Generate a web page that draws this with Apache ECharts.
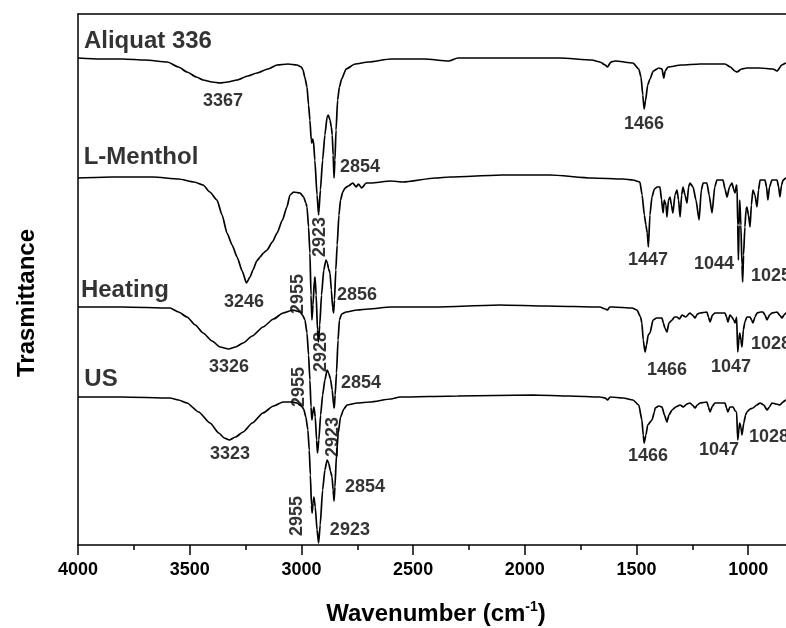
<!DOCTYPE html>
<html>
<head>
<meta charset="utf-8">
<script src="https://cdn.jsdelivr.net/npm/echarts@6/dist/echarts.min.js"></script>
<style>
html, body { margin: 0; padding: 0; background: #fff; }
#chart { width: 786px; height: 628px; }
</style>
</head>
<body>
<div id="chart"></div>
<script>
// FTIR spectra, [wavenumber cm-1, transmittance a.u. (offset per trace)]
var aliquat = [
  [4000,487],[3900,486],[3800,486],[3700,485],[3600,483],[3550,478],[3512,473],[3470,468],[3440,465],
  [3400,463],[3364,462],[3330,463],[3288,465],[3240,469],[3199,472],[3150,476],[3109,480],[3060,481],
  [3020,480],[3000,478],[2993,475],[2985,468],[2975,458],[2968,440],[2962,425],[2956,405],[2953,402],
  [2950,406],[2946,404],[2940,385],[2930,350],[2923,330],[2915,355],[2905,385],[2895,410],[2885,428],
  [2880,430],[2872,425],[2866,418],[2862,410],[2858,390],[2854,367],[2850,385],[2845,415],[2838,445],
  [2830,458],[2820,466],[2800,476],[2760,481],[2700,483],[2600,486],[2450,486],[2340,484],[2300,487],
  [2111,487],[1843,487],[1700,485],[1664,483],[1640,480],[1630,478],[1615,483],[1596,484],[1516,482],
  [1490,476],[1480,468],[1472,450],[1466,436],[1460,444],[1450,460],[1440,466],[1425,474],[1400,477],
  [1386,476],[1378,467],[1372,474],[1359,478],[1300,480],[1216,481],[1104,481],[1080,478],[1060,474],
  [1050,473],[1030,476],[1006,477],[950,477],[889,476],[871,474],[850,480],[831,482],[800,483]
];
var menthol = [
  [4000,367],[3850,368],[3664,368],[3550,366],[3480,363],[3440,360],[3410,353],[3378,345],[3355,330],
  [3333,312],[3310,300],[3288,288],[3265,274],[3246,262],[3230,268],[3217,275],[3200,284],[3185,288],
  [3170,292],[3154,295],[3130,303],[3109,312],[3085,325],[3065,338],[3051,350],[3035,353],[3006,352],
  [2990,348],[2980,342],[2975,338],[2968,318],[2962,292],[2957,250],[2953,225],[2948,240],[2942,265],
  [2939,268],[2934,250],[2928,215],[2924,203],[2918,220],[2910,250],[2900,275],[2890,285],[2884,282],
  [2878,276],[2872,272],[2866,255],[2860,237],[2856,232],[2852,245],[2846,275],[2840,300],[2832,330],
  [2825,345],[2815,353],[2805,357],[2790,359],[2770,362],[2755,358],[2745,361],[2730,357],[2710,362],
  [2690,362],[2600,364],[2545,363],[2400,367],[2335,368],[2100,370],[1887,370],[1700,367],[1560,366],
  [1516,365],[1485,363],[1475,350],[1465,330],[1458,320],[1452,312],[1447,298],[1440,330],[1431,348],
  [1420,356],[1408,358],[1395,358],[1388,345],[1381,332],[1376,345],[1373,345],[1368,340],[1364,328],
  [1357,345],[1350,348],[1344,340],[1337,332],[1328,350],[1319,355],[1312,345],[1305,328],[1298,350],
  [1292,358],[1283,350],[1274,342],[1267,358],[1261,362],[1247,358],[1234,345],[1220,325],[1210,355],
  [1202,362],[1185,362],[1175,350],[1162,332],[1150,358],[1140,365],[1113,365],[1104,356],[1095,348],
  [1084,358],[1073,362],[1064,355],[1059,352],[1053,360],[1050,358],[1047,320],[1044,285],[1041,320],
  [1038,345],[1033,320],[1028,280],[1025,263],[1021,290],[1015,318],[1010,335],[1006,338],[999,330],
  [992,318],[986,340],[979,355],[970,350],[961,338],[954,355],[947,365],[925,365],[918,358],[912,345],
  [905,358],[894,365],[871,365],[864,358],[858,348],[851,360],[844,365],[831,367],[800,367]
];
var heating = [
  [4000,238],[3800,238],[3588,237],[3550,233],[3512,228],[3475,220],[3440,212],[3400,204],[3364,198],
  [3326,196],[3295,198],[3261,202],[3220,209],[3172,218],[3125,226],[3082,232],[3038,235],[3006,233],
  [2995,230],[2984,225],[2975,212],[2968,190],[2962,165],[2957,138],[2953,125],[2949,132],[2944,138],
  [2938,128],[2932,105],[2928,92],[2922,105],[2914,130],[2905,150],[2895,165],[2885,175],[2878,172],
  [2870,166],[2862,155],[2856,140],[2853,137],[2849,150],[2843,172],[2836,205],[2830,225],[2820,231],
  [2800,233],[2750,235],[2700,236],[2600,238],[2400,238],[2111,240],[1900,239],[1664,238],[1640,236],
  [1630,235],[1620,238],[1605,238],[1520,237],[1498,235],[1482,228],[1476,222],[1470,205],[1462,193],
  [1455,200],[1448,210],[1440,212],[1426,225],[1410,227],[1386,227],[1380,222],[1373,217],[1364,213],
  [1355,222],[1341,225],[1330,228],[1319,228],[1308,226],[1296,230],[1280,228],[1261,232],[1250,230],
  [1238,227],[1228,231],[1216,232],[1185,233],[1178,228],[1171,223],[1160,230],[1149,232],[1130,232],
  [1104,232],[1097,228],[1091,223],[1082,230],[1073,228],[1065,225],[1059,222],[1052,228],[1047,193],
  [1042,205],[1038,212],[1033,205],[1028,198],[1022,215],[1015,223],[1006,228],[992,228],[985,225],
  [979,222],[970,228],[961,232],[945,233],[934,233],[925,230],[916,225],[905,230],[894,232],[871,233],
  [860,230],[849,227],[840,230],[831,232],[800,232]
];
var us = [
  [4000,148],[3800,148],[3588,147],[3550,145],[3512,142],[3460,133],[3409,122],[3370,112],[3345,107],
  [3323,105],[3295,108],[3261,113],[3220,122],[3172,132],[3125,139],[3082,143],[3040,143],[3020,142],
  [3000,139],[2990,136],[2980,128],[2971,115],[2965,95],[2960,70],[2955,40],[2952,32],[2948,42],
  [2944,48],[2938,38],[2930,15],[2923,2],[2916,20],[2905,55],[2895,75],[2885,85],[2878,82],[2870,74],
  [2863,68],[2858,55],[2854,44],[2850,58],[2843,90],[2835,112],[2825,128],[2810,136],[2796,140],
  [2750,142],[2693,143],[2600,146],[2559,148],[2300,149],[1963,150],[1800,149],[1664,148],[1640,147],
  [1630,145],[1618,148],[1560,147],[1516,145],[1490,140],[1476,125],[1470,110],[1466,102],[1458,110],
  [1450,120],[1431,125],[1420,133],[1417,137],[1400,139],[1386,138],[1375,130],[1364,123],[1355,130],
  [1341,135],[1325,138],[1305,140],[1290,138],[1275,141],[1261,142],[1250,140],[1238,137],[1228,140],
  [1216,142],[1185,143],[1178,138],[1171,133],[1160,139],[1149,142],[1125,142],[1104,142],[1097,137],
  [1091,133],[1082,138],[1068,138],[1058,134],[1052,133],[1047,105],[1042,115],[1038,122],[1033,118],
  [1028,110],[1020,122],[1012,130],[1006,133],[992,136],[979,137],[962,140],[947,142],[930,140],
  [916,135],[905,138],[894,142],[875,141],[858,140],[845,143],[831,145],[800,145]
];

// axis ticks
var majorTicks = [1000, 1500, 2000, 2500, 3000, 3500, 4000];
var minorTicks = [1250, 1750, 2250, 2750, 3250, 3750];

// trace names and peak annotations: [wavenumber, transmittance, text, vertical]
var traceNames = [
  [3687, 504, 'Aliquat 336'],
  [3718, 388, 'L-Menthol'],
  [3790, 255, 'Heating'],
  [3897, 166, 'US']
];
var peakNotes = [
  [3351, 444, '3367', 0], [2738, 378, '2854', 0], [2917, 308, '2923', 1], [1467, 421, '1466', 0],
  [3257, 243, '3246', 0], [3015, 251, '2955', 1], [2751, 250, '2856', 0],
  [1449, 285, '1447', 0], [1153, 281, '1044', 0], [898, 269, '1025', 0],
  [2912, 193, '2928', 1], [3324, 178, '3326', 0], [3011, 158, '2955', 1], [2733, 162, '2854', 0],
  [1364, 175, '1466', 0], [1077, 178, '1047', 0], [898, 201, '1028', 0],
  [2859, 108, '2923', 1], [3320, 91, '3323', 0], [3020, 29, '2955', 1], [2715, 58, '2854', 0],
  [2783, 15, '2923', 0], [1449, 89, '1466', 0], [1131, 95, '1047', 0], [907, 108, '1028', 0]
];

var font = 'Liberation Sans, Arial, sans-serif';
var ink = '#000';

function spectrum(name, data) {
  return {
    name: name,
    type: 'line',
    data: data,
    symbol: 'none',
    smooth: 0.2,
    smoothMonotone: 'x',
    lineStyle: { color: ink, width: 1.7 },
    silent: true
  };
}

var noteItems = peakNotes.map(function (p) {
  return {
    value: [p[0], p[1]],
    label: { formatter: p[2], rotate: p[3] ? 90 : 0 }
  };
});
var nameItems = traceNames.map(function (p) {
  return { value: [p[0], p[1]], label: { formatter: p[2] } };
});

var xBase = { type: 'value', inverse: true, min: 831, max: 4000, splitLine: { show: false } };

var option = {
  animation: false,
  backgroundColor: '#fff',
  grid: { left: 78, top: 14, right: 0, bottom: 83 },
  xAxis: [
    Object.assign({}, xBase, {
      position: 'bottom',
      axisLine: { onZero: false, lineStyle: { color: ink, width: 1.5 } },
      axisTick: { inside: false, length: 10, customValues: majorTicks, lineStyle: { color: ink, width: 1.5 } },
      axisLabel: {
        customValues: majorTicks, color: ink, fontSize: 18, fontWeight: 'bold',
        fontFamily: font, margin: 16, formatter: function (v) { return String(v); }
      }
    }),
    Object.assign({}, xBase, {
      position: 'bottom',
      axisLine: { show: false },
      axisTick: { inside: false, length: 5, customValues: minorTicks, lineStyle: { color: ink, width: 1.5 } },
      axisLabel: { show: false }
    }),
    Object.assign({}, xBase, {
      position: 'top',
      axisLine: { onZero: false, lineStyle: { color: ink, width: 1.5 } },
      axisTick: { show: false },
      axisLabel: { show: false }
    })
  ],
  yAxis: {
    type: 'value',
    min: 0,
    max: 531,
    axisLine: { show: true, onZero: false, lineStyle: { color: ink, width: 1.5 } },
    axisTick: { show: false },
    axisLabel: { show: false },
    splitLine: { show: false }
  },
  graphic: [
    {
      type: 'text', x: 436, y: 614,
      style: {
        text: 'Wavenumber (cm{sup|-1})',
        fill: ink, font: 'bold 24px ' + font,
        align: 'center', verticalAlign: 'middle',
        rich: { sup: { fontSize: 14, fontWeight: 'bold', fontFamily: font, padding: [0, 0, 13, 0] } }
      }
    },
    {
      type: 'text', x: 27, y: 303, rotation: Math.PI / 2,
      style: {
        text: 'Trasmittance', fill: ink, font: 'bold 24px ' + font,
        align: 'center', verticalAlign: 'middle'
      }
    }
  ],
  series: [
    spectrum('Aliquat 336', aliquat),
    spectrum('L-Menthol', menthol),
    spectrum('Heating', heating),
    spectrum('US', us),
    {
      type: 'scatter', data: noteItems, symbolSize: 0, silent: true,
      label: {
        show: true, position: 'inside', color: ink,
        fontSize: 18, fontWeight: 'bold', fontFamily: font
      }
    },
    {
      type: 'scatter', data: nameItems, symbolSize: 0, silent: true,
      label: {
        show: true, position: 'inside', color: ink,
        fontSize: 24, fontWeight: 'bold', fontFamily: font
      }
    }
  ]
};

var myChart = echarts.init(document.getElementById('chart'));
myChart.setOption(option);
</script>
</body>
</html>
